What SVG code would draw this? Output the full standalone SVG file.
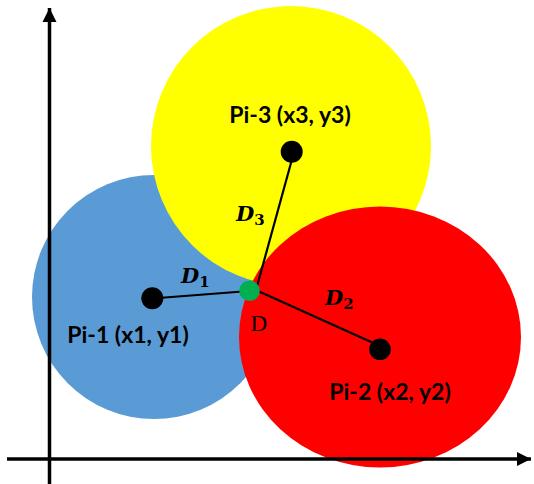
<svg xmlns="http://www.w3.org/2000/svg" width="534" height="484" viewBox="0 0 534 484">
<defs>
<style>
.lbl{font-family:Lato,"Open Sans","Liberation Sans",sans-serif;font-weight:700;font-size:23px;fill:#000;text-anchor:middle}
.math{font-family:"DejaVu Serif","Liberation Serif",serif;font-weight:700;font-style:italic;font-size:21px;fill:#000}
.sub{font-size:15px;font-style:normal}
.dl{font-family:"Liberation Serif","DejaVu Serif",serif;font-size:23px;fill:#000}
.pt{fill:#000}
.conn line{stroke:#000;stroke-width:2.2}
.axis{stroke:#000;stroke-width:3.5}
</style>
<marker id="ah" markerUnits="userSpaceOnUse" markerWidth="16" markerHeight="16" viewBox="0 0 16 16" refX="14" refY="8" orient="auto">
<path d="M0,1 L14,8 L0,15 z" fill="#000"/>
</marker>
</defs>
<rect width="534" height="484" fill="#fff"/>
<g id="node-pi1-circle"><circle cx="154" cy="297" r="122" fill="#5B9BD5"/></g>
<g id="node-pi3-circle"><circle cx="291" cy="146" r="140" fill="#FFFF00"/></g>
<g id="node-pi2-circle"><ellipse cx="380" cy="337" rx="141" ry="130.5" fill="#FF0000"/></g>
<g id="connectors" class="conn">
<line x1="152" y1="298.5" x2="249" y2="291"/>
<line x1="294" y1="152" x2="256" y2="290"/>
<line x1="258" y1="291" x2="380" y2="346"/>
</g>
<g id="node-D">
<circle cx="249.5" cy="290.7" r="10.3" fill="#00B050"/>
<text class="dl" x="250.5" y="330.5">D</text>
</g>
<g id="node-pi1">
<circle class="pt" cx="152.3" cy="298.3" r="11"/>
<text class="lbl" x="128" y="342.5">Pi-1 (x1, y1)</text>
</g>
<g id="node-pi2">
<circle class="pt" cx="380" cy="349.3" r="10.8"/>
<text class="lbl" x="390" y="400">Pi-2 (x2, y2)</text>
</g>
<g id="node-pi3">
<circle class="pt" cx="291.7" cy="151.7" r="11"/>
<text class="lbl" x="290" y="123">Pi-3 (x3, y3)</text>
</g>
<g id="edge-labels">
<text class="math" x="181" y="283.3">D<tspan class="sub" dy="4">1</tspan></text>
<text class="math" x="325" y="305">D<tspan class="sub" dy="4">2</tspan></text>
<text class="math" x="236" y="220.7">D<tspan class="sub" dy="4">3</tspan></text>
</g>
<g id="axes">
<line class="axis" x1="49.5" y1="484" x2="49.5" y2="8" marker-end="url(#ah)"/>
<line class="axis" x1="7" y1="459" x2="531" y2="459" marker-end="url(#ah)"/>
</g>
</svg>
